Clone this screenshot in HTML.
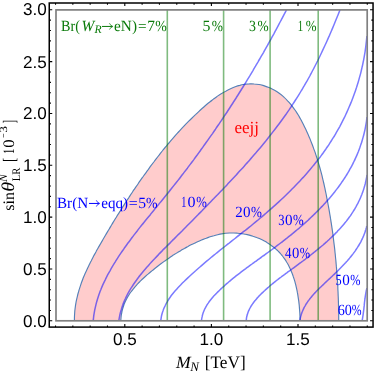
<!DOCTYPE html>
<html><head><meta charset="utf-8"><style>
html,body{margin:0;padding:0;background:#fff}
svg{display:block;will-change:transform}
text{font-family:"Liberation Serif",serif;text-rendering:geometricPrecision}
.sans text{font-family:"Liberation Sans",sans-serif;font-size:17.1px;fill:#000}
.bl text{fill:#0000ff;font-size:15.5px}
.gr text{fill:#0a7a0a;font-size:15.5px}
</style></head><body>
<svg width="374" height="372" viewBox="0 0 374 372">
<rect width="374" height="372" fill="#fff"/>
<path d="M74.4 320.8C74.4 320.0 74.4 317.5 74.5 315.8C74.6 314.2 74.7 312.6 74.8 311.0C75.0 309.3 75.2 307.7 75.4 306.1C75.7 304.5 75.9 302.9 76.2 301.4C76.5 299.8 76.9 298.2 77.3 296.6C77.6 295.1 78.0 293.5 78.5 292.0C78.9 290.4 79.4 288.9 79.9 287.4C80.4 285.9 80.9 284.3 81.4 282.8C82.0 281.3 82.6 279.8 83.1 278.3C83.7 276.8 84.4 275.3 85.0 273.8C85.6 272.4 86.3 270.9 87.0 269.4C87.7 267.9 88.4 266.5 89.1 265.0C89.8 263.6 90.5 262.1 91.3 260.7C92.0 259.2 92.8 257.8 93.5 256.3C94.3 254.9 95.1 253.4 95.9 252.0C96.6 250.6 97.4 249.2 98.2 247.7C99.0 246.3 99.9 244.9 100.7 243.5C101.5 242.1 102.3 240.6 103.1 239.2C104.0 237.8 104.8 236.4 105.6 235.0C106.4 233.6 107.3 232.2 108.1 230.8C108.9 229.4 109.8 228.0 110.6 226.6C111.4 225.2 112.3 223.8 113.1 222.4C114.0 221.1 114.8 219.7 115.6 218.3C116.5 216.9 117.3 215.5 118.2 214.2C119.1 212.8 119.9 211.4 120.8 210.0C121.6 208.7 122.5 207.3 123.4 205.9C124.3 204.6 125.1 203.2 126.0 201.8C126.9 200.5 127.8 199.1 128.7 197.8C129.5 196.4 130.4 195.1 131.3 193.7C132.2 192.4 133.1 191.0 134.0 189.7C134.9 188.4 135.8 187.0 136.8 185.7C137.7 184.4 138.6 183.0 139.5 181.7C140.4 180.4 141.4 179.0 142.3 177.7C143.2 176.4 144.2 175.1 145.1 173.8C146.1 172.5 147.0 171.1 148.0 169.8C148.9 168.5 149.9 167.2 150.8 165.9C151.8 164.6 152.8 163.3 153.8 162.0C154.7 160.7 155.7 159.4 156.7 158.2C157.7 156.9 158.7 155.6 159.7 154.3C160.7 153.0 161.7 151.8 162.7 150.5C163.7 149.3 164.8 148.0 165.8 146.7C166.8 145.5 167.8 144.2 168.9 143.0C169.9 141.8 171.0 140.5 172.0 139.3C173.1 138.1 174.2 136.8 175.2 135.6C176.3 134.4 177.4 133.2 178.5 132.0C179.6 130.8 180.7 129.6 181.8 128.4C182.9 127.2 184.0 126.1 185.1 124.9C186.2 123.7 187.4 122.6 188.5 121.4C189.7 120.2 190.8 119.1 192.0 118.0C193.1 116.8 194.3 115.7 195.5 114.6C196.6 113.5 197.8 112.4 199.0 111.3C200.2 110.2 201.4 109.1 202.6 108.0C203.9 106.9 205.1 105.8 206.3 104.8C207.6 103.7 208.8 102.7 210.1 101.7C211.4 100.7 212.6 99.7 213.9 98.7C215.2 97.7 216.6 96.8 217.9 95.9C219.2 95.0 220.6 94.1 222.0 93.3C223.4 92.4 224.8 91.6 226.2 90.9C227.7 90.1 229.1 89.4 230.6 88.7C232.1 88.0 233.6 87.4 235.2 86.8C236.7 86.3 238.3 85.8 239.8 85.4C241.4 84.9 243.0 84.6 244.6 84.3C246.2 84.1 247.8 83.9 249.4 83.9C251.0 83.8 252.6 83.8 254.2 84.0C255.8 84.1 257.4 84.3 259.0 84.5C260.6 84.8 262.1 85.2 263.7 85.6C265.2 86.1 266.7 86.6 268.2 87.2C269.7 87.8 271.2 88.4 272.6 89.2C274.0 89.9 275.4 90.7 276.7 91.5C278.1 92.4 279.4 93.3 280.6 94.3C281.9 95.3 283.1 96.3 284.2 97.4C285.4 98.4 286.5 99.6 287.6 100.8C288.7 101.9 289.8 103.1 290.8 104.4C291.8 105.7 292.8 107.0 293.8 108.3C294.7 109.6 295.7 111.0 296.6 112.4C297.5 113.7 298.3 115.2 299.2 116.6C300.0 118.0 300.8 119.5 301.6 120.9C302.4 122.4 303.2 123.9 303.9 125.4C304.6 126.9 305.4 128.4 306.1 129.9C306.8 131.4 307.4 132.9 308.1 134.4C308.7 135.9 309.4 137.4 310.0 138.9C310.6 140.5 311.2 142.0 311.8 143.5C312.4 145.0 313.0 146.5 313.5 148.1C314.1 149.6 314.6 151.1 315.2 152.6C315.7 154.2 316.2 155.7 316.7 157.2C317.2 158.8 317.7 160.3 318.1 161.8C318.6 163.4 319.0 164.9 319.5 166.5C319.9 168.0 320.3 169.5 320.8 171.1C321.2 172.6 321.6 174.2 322.0 175.7C322.4 177.3 322.7 178.9 323.1 180.4C323.5 182.0 323.8 183.5 324.2 185.1C324.5 186.7 324.9 188.2 325.2 189.8C325.6 191.4 325.9 193.0 326.2 194.5C326.5 196.1 326.8 197.7 327.1 199.3C327.5 200.9 327.8 202.4 328.0 204.0C328.3 205.6 328.6 207.2 328.9 208.8C329.2 210.4 329.5 212.0 329.7 213.6C330.0 215.2 330.3 216.8 330.5 218.4C330.8 220.0 331.0 221.6 331.3 223.2C331.5 224.8 331.8 226.4 332.0 228.0C332.2 229.7 332.5 231.3 332.7 232.9C332.9 234.5 333.1 236.1 333.3 237.7C333.5 239.3 333.7 241.0 333.9 242.6C334.1 244.2 334.3 245.8 334.5 247.4C334.7 249.1 334.9 250.7 335.0 252.3C335.2 253.9 335.4 255.6 335.5 257.2C335.7 258.8 335.9 260.4 336.0 262.1C336.1 263.7 336.3 265.3 336.4 266.9C336.6 268.6 336.7 270.2 336.8 271.8C336.9 273.4 337.1 275.1 337.2 276.7C337.3 278.3 337.4 279.9 337.5 281.6C337.6 283.2 337.7 284.8 337.8 286.4C337.8 288.1 337.9 289.7 338.0 291.3C338.1 292.9 338.1 294.5 338.2 296.2C338.3 297.8 338.3 299.4 338.4 301.0C338.4 302.6 338.5 304.2 338.5 305.8C338.6 307.5 338.6 309.1 338.6 310.7C338.6 312.3 338.7 313.9 338.7 315.5C338.7 317.1 338.7 319.5 338.7 320.3L300.1 320.3C300.1 319.7 300.0 317.8 300.0 316.6C299.9 315.3 299.9 314.1 299.8 312.8C299.7 311.5 299.6 310.2 299.5 308.9C299.4 307.6 299.3 306.2 299.2 304.9C299.0 303.6 298.9 302.2 298.7 300.9C298.5 299.5 298.3 298.2 298.1 296.8C297.9 295.4 297.7 294.1 297.4 292.7C297.2 291.4 296.9 290.0 296.6 288.7C296.3 287.3 296.0 286.0 295.7 284.6C295.3 283.3 295.0 281.9 294.6 280.6C294.2 279.3 293.8 278.0 293.3 276.7C292.9 275.4 292.4 274.1 291.9 272.8C291.4 271.6 290.9 270.3 290.3 269.1C289.8 267.9 289.2 266.6 288.6 265.5C287.9 264.3 287.3 263.1 286.6 262.0C285.9 260.8 285.2 259.7 284.4 258.6C283.7 257.6 282.9 256.5 282.1 255.5C281.2 254.5 280.4 253.5 279.5 252.5C278.6 251.6 277.7 250.7 276.7 249.8C275.7 248.9 274.8 248.0 273.7 247.2C272.7 246.4 271.7 245.6 270.6 244.9C269.5 244.1 268.5 243.4 267.3 242.7C266.2 242.0 265.1 241.4 263.9 240.7C262.8 240.1 261.6 239.5 260.4 239.0C259.2 238.5 258.0 237.9 256.7 237.5C255.5 237.0 254.3 236.6 253.0 236.2C251.8 235.8 250.5 235.4 249.2 235.1C247.9 234.8 246.6 234.5 245.3 234.2C244.0 234.0 242.7 233.7 241.4 233.6C240.1 233.4 238.8 233.3 237.5 233.2C236.1 233.1 234.8 233.0 233.5 233.0C232.2 233.0 230.8 233.0 229.5 233.0C228.2 233.1 226.9 233.2 225.6 233.3C224.2 233.5 222.9 233.7 221.6 233.9C220.3 234.1 219.0 234.4 217.7 234.7C216.4 235.0 215.2 235.3 213.9 235.7C212.6 236.0 211.3 236.4 210.1 236.8C208.8 237.3 207.5 237.7 206.3 238.2C205.0 238.6 203.8 239.1 202.6 239.6C201.3 240.2 200.1 240.7 198.9 241.2C197.7 241.8 196.4 242.3 195.2 242.9C194.0 243.5 192.8 244.0 191.6 244.6C190.4 245.2 189.2 245.8 188.0 246.5C186.9 247.1 185.7 247.7 184.5 248.4C183.3 249.0 182.2 249.7 181.0 250.4C179.9 251.1 178.7 251.8 177.6 252.5C176.4 253.2 175.3 253.9 174.2 254.6C173.0 255.3 171.9 256.1 170.8 256.8C169.7 257.6 168.6 258.3 167.5 259.1C166.4 259.9 165.3 260.6 164.2 261.4C163.1 262.2 162.0 263.0 160.9 263.8C159.9 264.6 158.8 265.4 157.7 266.2C156.7 267.1 155.6 267.9 154.5 268.7C153.5 269.6 152.5 270.4 151.4 271.3C150.4 272.1 149.3 273.0 148.3 273.9C147.3 274.7 146.3 275.6 145.3 276.5C144.3 277.4 143.3 278.3 142.3 279.2C141.4 280.1 140.4 281.0 139.5 282.0C138.6 282.9 137.7 283.9 136.8 284.8C135.9 285.8 135.0 286.8 134.2 287.8C133.4 288.8 132.5 289.8 131.8 290.8C131.0 291.9 130.2 292.9 129.5 294.0C128.8 295.1 128.1 296.2 127.5 297.3C126.9 298.4 126.3 299.6 125.7 300.7C125.1 301.9 124.6 303.1 124.1 304.3C123.7 305.5 123.2 306.8 122.9 308.1C122.5 309.3 122.1 310.6 121.9 312.0C121.6 313.3 121.3 314.6 121.2 316.0C121.0 317.4 120.9 319.6 120.8 320.3Z" fill="#ffcccc" stroke="none"/>
<path d="M74.4 320.8C74.4 320.0 74.4 317.5 74.5 315.8C74.6 314.2 74.7 312.6 74.8 311.0C75.0 309.3 75.2 307.7 75.4 306.1C75.7 304.5 75.9 302.9 76.2 301.4C76.5 299.8 76.9 298.2 77.3 296.6C77.6 295.1 78.0 293.5 78.5 292.0C78.9 290.4 79.4 288.9 79.9 287.4C80.4 285.9 80.9 284.3 81.4 282.8C82.0 281.3 82.6 279.8 83.1 278.3C83.7 276.8 84.4 275.3 85.0 273.8C85.6 272.4 86.3 270.9 87.0 269.4C87.7 267.9 88.4 266.5 89.1 265.0C89.8 263.6 90.5 262.1 91.3 260.7C92.0 259.2 92.8 257.8 93.5 256.3C94.3 254.9 95.1 253.4 95.9 252.0C96.6 250.6 97.4 249.2 98.2 247.7C99.0 246.3 99.9 244.9 100.7 243.5C101.5 242.1 102.3 240.6 103.1 239.2C104.0 237.8 104.8 236.4 105.6 235.0C106.4 233.6 107.3 232.2 108.1 230.8C108.9 229.4 109.8 228.0 110.6 226.6C111.4 225.2 112.3 223.8 113.1 222.4C114.0 221.1 114.8 219.7 115.6 218.3C116.5 216.9 117.3 215.5 118.2 214.2C119.1 212.8 119.9 211.4 120.8 210.0C121.6 208.7 122.5 207.3 123.4 205.9C124.3 204.6 125.1 203.2 126.0 201.8C126.9 200.5 127.8 199.1 128.7 197.8C129.5 196.4 130.4 195.1 131.3 193.7C132.2 192.4 133.1 191.0 134.0 189.7C134.9 188.4 135.8 187.0 136.8 185.7C137.7 184.4 138.6 183.0 139.5 181.7C140.4 180.4 141.4 179.0 142.3 177.7C143.2 176.4 144.2 175.1 145.1 173.8C146.1 172.5 147.0 171.1 148.0 169.8C148.9 168.5 149.9 167.2 150.8 165.9C151.8 164.6 152.8 163.3 153.8 162.0C154.7 160.7 155.7 159.4 156.7 158.2C157.7 156.9 158.7 155.6 159.7 154.3C160.7 153.0 161.7 151.8 162.7 150.5C163.7 149.3 164.8 148.0 165.8 146.7C166.8 145.5 167.8 144.2 168.9 143.0C169.9 141.8 171.0 140.5 172.0 139.3C173.1 138.1 174.2 136.8 175.2 135.6C176.3 134.4 177.4 133.2 178.5 132.0C179.6 130.8 180.7 129.6 181.8 128.4C182.9 127.2 184.0 126.1 185.1 124.9C186.2 123.7 187.4 122.6 188.5 121.4C189.7 120.2 190.8 119.1 192.0 118.0C193.1 116.8 194.3 115.7 195.5 114.6C196.6 113.5 197.8 112.4 199.0 111.3C200.2 110.2 201.4 109.1 202.6 108.0C203.9 106.9 205.1 105.8 206.3 104.8C207.6 103.7 208.8 102.7 210.1 101.7C211.4 100.7 212.6 99.7 213.9 98.7C215.2 97.7 216.6 96.8 217.9 95.9C219.2 95.0 220.6 94.1 222.0 93.3C223.4 92.4 224.8 91.6 226.2 90.9C227.7 90.1 229.1 89.4 230.6 88.7C232.1 88.0 233.6 87.4 235.2 86.8C236.7 86.3 238.3 85.8 239.8 85.4C241.4 84.9 243.0 84.6 244.6 84.3C246.2 84.1 247.8 83.9 249.4 83.9C251.0 83.8 252.6 83.8 254.2 84.0C255.8 84.1 257.4 84.3 259.0 84.5C260.6 84.8 262.1 85.2 263.7 85.6C265.2 86.1 266.7 86.6 268.2 87.2C269.7 87.8 271.2 88.4 272.6 89.2C274.0 89.9 275.4 90.7 276.7 91.5C278.1 92.4 279.4 93.3 280.6 94.3C281.9 95.3 283.1 96.3 284.2 97.4C285.4 98.4 286.5 99.6 287.6 100.8C288.7 101.9 289.8 103.1 290.8 104.4C291.8 105.7 292.8 107.0 293.8 108.3C294.7 109.6 295.7 111.0 296.6 112.4C297.5 113.7 298.3 115.2 299.2 116.6C300.0 118.0 300.8 119.5 301.6 120.9C302.4 122.4 303.2 123.9 303.9 125.4C304.6 126.9 305.4 128.4 306.1 129.9C306.8 131.4 307.4 132.9 308.1 134.4C308.7 135.9 309.4 137.4 310.0 138.9C310.6 140.5 311.2 142.0 311.8 143.5C312.4 145.0 313.0 146.5 313.5 148.1C314.1 149.6 314.6 151.1 315.2 152.6C315.7 154.2 316.2 155.7 316.7 157.2C317.2 158.8 317.7 160.3 318.1 161.8C318.6 163.4 319.0 164.9 319.5 166.5C319.9 168.0 320.3 169.5 320.8 171.1C321.2 172.6 321.6 174.2 322.0 175.7C322.4 177.3 322.7 178.9 323.1 180.4C323.5 182.0 323.8 183.5 324.2 185.1C324.5 186.7 324.9 188.2 325.2 189.8C325.6 191.4 325.9 193.0 326.2 194.5C326.5 196.1 326.8 197.7 327.1 199.3C327.5 200.9 327.8 202.4 328.0 204.0C328.3 205.6 328.6 207.2 328.9 208.8C329.2 210.4 329.5 212.0 329.7 213.6C330.0 215.2 330.3 216.8 330.5 218.4C330.8 220.0 331.0 221.6 331.3 223.2C331.5 224.8 331.8 226.4 332.0 228.0C332.2 229.7 332.5 231.3 332.7 232.9C332.9 234.5 333.1 236.1 333.3 237.7C333.5 239.3 333.7 241.0 333.9 242.6C334.1 244.2 334.3 245.8 334.5 247.4C334.7 249.1 334.9 250.7 335.0 252.3C335.2 253.9 335.4 255.6 335.5 257.2C335.7 258.8 335.9 260.4 336.0 262.1C336.1 263.7 336.3 265.3 336.4 266.9C336.6 268.6 336.7 270.2 336.8 271.8C336.9 273.4 337.1 275.1 337.2 276.7C337.3 278.3 337.4 279.9 337.5 281.6C337.6 283.2 337.7 284.8 337.8 286.4C337.8 288.1 337.9 289.7 338.0 291.3C338.1 292.9 338.1 294.5 338.2 296.2C338.3 297.8 338.3 299.4 338.4 301.0C338.4 302.6 338.5 304.2 338.5 305.8C338.6 307.5 338.6 309.1 338.6 310.7C338.6 312.3 338.7 313.9 338.7 315.5C338.7 317.1 338.7 319.5 338.7 320.3" fill="none" stroke="#5580b8" stroke-width="1.15"/>
<path d="M120.8 320.3C120.9 319.6 121.0 317.4 121.2 316.0C121.3 314.6 121.6 313.3 121.9 312.0C122.1 310.6 122.5 309.3 122.9 308.1C123.2 306.8 123.7 305.5 124.1 304.3C124.6 303.1 125.1 301.9 125.7 300.7C126.3 299.6 126.9 298.4 127.5 297.3C128.1 296.2 128.8 295.1 129.5 294.0C130.2 292.9 131.0 291.9 131.8 290.8C132.5 289.8 133.4 288.8 134.2 287.8C135.0 286.8 135.9 285.8 136.8 284.8C137.7 283.9 138.6 282.9 139.5 282.0C140.4 281.0 141.4 280.1 142.3 279.2C143.3 278.3 144.3 277.4 145.3 276.5C146.3 275.6 147.3 274.7 148.3 273.9C149.3 273.0 150.4 272.1 151.4 271.3C152.5 270.4 153.5 269.6 154.5 268.7C155.6 267.9 156.7 267.1 157.7 266.2C158.8 265.4 159.9 264.6 160.9 263.8C162.0 263.0 163.1 262.2 164.2 261.4C165.3 260.6 166.4 259.9 167.5 259.1C168.6 258.3 169.7 257.6 170.8 256.8C171.9 256.1 173.0 255.3 174.2 254.6C175.3 253.9 176.4 253.2 177.6 252.5C178.7 251.8 179.9 251.1 181.0 250.4C182.2 249.7 183.3 249.0 184.5 248.4C185.7 247.7 186.9 247.1 188.0 246.5C189.2 245.8 190.4 245.2 191.6 244.6C192.8 244.0 194.0 243.5 195.2 242.9C196.4 242.3 197.7 241.8 198.9 241.2C200.1 240.7 201.3 240.2 202.6 239.6C203.8 239.1 205.0 238.6 206.3 238.2C207.5 237.7 208.8 237.3 210.1 236.8C211.3 236.4 212.6 236.0 213.9 235.7C215.2 235.3 216.4 235.0 217.7 234.7C219.0 234.4 220.3 234.1 221.6 233.9C222.9 233.7 224.2 233.5 225.6 233.3C226.9 233.2 228.2 233.1 229.5 233.0C230.8 233.0 232.2 233.0 233.5 233.0C234.8 233.0 236.1 233.1 237.5 233.2C238.8 233.3 240.1 233.4 241.4 233.6C242.7 233.7 244.0 234.0 245.3 234.2C246.6 234.5 247.9 234.8 249.2 235.1C250.5 235.4 251.8 235.8 253.0 236.2C254.3 236.6 255.5 237.0 256.7 237.5C258.0 237.9 259.2 238.5 260.4 239.0C261.6 239.5 262.8 240.1 263.9 240.7C265.1 241.4 266.2 242.0 267.3 242.7C268.5 243.4 269.5 244.1 270.6 244.9C271.7 245.6 272.7 246.4 273.7 247.2C274.8 248.0 275.7 248.9 276.7 249.8C277.7 250.7 278.6 251.6 279.5 252.5C280.4 253.5 281.2 254.5 282.1 255.5C282.9 256.5 283.7 257.6 284.4 258.6C285.2 259.7 285.9 260.8 286.6 262.0C287.3 263.1 287.9 264.3 288.6 265.5C289.2 266.6 289.8 267.9 290.3 269.1C290.9 270.3 291.4 271.6 291.9 272.8C292.4 274.1 292.9 275.4 293.3 276.7C293.8 278.0 294.2 279.3 294.6 280.6C295.0 281.9 295.3 283.3 295.7 284.6C296.0 286.0 296.3 287.3 296.6 288.7C296.9 290.0 297.2 291.4 297.4 292.7C297.7 294.1 297.9 295.4 298.1 296.8C298.3 298.2 298.5 299.5 298.7 300.9C298.9 302.2 299.0 303.6 299.2 304.9C299.3 306.2 299.4 307.6 299.5 308.9C299.6 310.2 299.7 311.5 299.8 312.8C299.9 314.1 299.9 315.3 300.0 316.6C300.0 317.8 300.1 319.7 300.1 320.3" fill="none" stroke="#5580b8" stroke-width="1.15"/>
<g fill="none" stroke="#0000ff" stroke-opacity="0.52" stroke-width="1.5">
<path d="M93.2 320.8C93.3 319.9 93.6 317.2 93.8 315.4C94.1 313.6 94.4 311.8 94.7 310.1C95.1 308.3 95.5 306.6 95.9 304.9C96.3 303.2 96.8 301.4 97.3 299.8C97.8 298.1 98.4 296.4 98.9 294.7C99.5 293.1 100.1 291.4 100.8 289.8C101.4 288.1 102.1 286.5 102.8 284.9C103.5 283.3 104.3 281.7 105.1 280.1C105.8 278.5 106.6 277.0 107.4 275.4C108.3 273.8 109.1 272.3 110.0 270.8C110.8 269.2 111.7 267.7 112.6 266.2C113.5 264.6 114.4 263.1 115.4 261.6C116.3 260.1 117.3 258.6 118.2 257.1C119.2 255.7 120.2 254.2 121.2 252.7C122.2 251.2 123.2 249.8 124.2 248.3C125.3 246.9 126.3 245.4 127.3 244.0C128.4 242.5 129.4 241.1 130.5 239.7C131.6 238.3 132.6 236.8 133.7 235.4C134.8 234.0 135.9 232.6 137.0 231.2C138.1 229.7 139.2 228.3 140.3 226.9C141.4 225.5 142.6 224.1 143.7 222.7C144.8 221.3 145.9 219.9 147.1 218.5C148.2 217.2 149.3 215.8 150.5 214.4C151.6 213.0 152.7 211.6 153.9 210.2C155.0 208.8 156.2 207.4 157.3 206.0C158.4 204.7 159.6 203.3 160.7 201.9C161.9 200.5 163.0 199.1 164.1 197.7C165.3 196.3 166.4 194.9 167.5 193.5C168.6 192.1 169.8 190.7 170.9 189.3C172.0 187.9 173.1 186.5 174.2 185.1C175.3 183.7 176.5 182.3 177.6 180.9C178.7 179.5 179.8 178.1 180.8 176.7C181.9 175.3 183.0 173.8 184.1 172.4C185.2 171.0 186.3 169.6 187.4 168.2C188.4 166.7 189.5 165.3 190.6 163.9C191.7 162.5 192.7 161.0 193.8 159.6C194.8 158.2 195.9 156.7 197.0 155.3C198.0 153.9 199.1 152.4 200.1 151.0C201.1 149.5 202.2 148.1 203.2 146.6C204.3 145.2 205.3 143.7 206.3 142.3C207.4 140.8 208.4 139.4 209.4 137.9C210.4 136.5 211.4 135.0 212.5 133.6C213.5 132.1 214.5 130.6 215.5 129.2C216.5 127.7 217.5 126.2 218.5 124.8C219.5 123.3 220.5 121.8 221.5 120.4C222.5 118.9 223.5 117.4 224.4 115.9C225.4 114.4 226.4 113.0 227.4 111.5C228.4 110.0 229.3 108.5 230.3 107.0C231.3 105.5 232.2 104.0 233.2 102.5C234.2 101.0 235.1 99.5 236.1 98.0C237.0 96.5 238.0 95.0 238.9 93.5C239.9 92.0 240.8 90.5 241.7 89.0C242.7 87.5 243.6 86.0 244.5 84.5C245.5 83.0 246.4 81.4 247.3 79.9C248.3 78.4 249.2 76.9 250.1 75.4C251.0 73.8 251.9 72.3 252.8 70.8C253.7 69.2 254.6 67.7 255.5 66.2C256.4 64.6 257.3 63.1 258.2 61.6C259.1 60.0 260.0 58.5 260.9 56.9C261.8 55.4 262.7 53.8 263.6 52.3C264.4 50.7 265.3 49.2 266.2 47.6C267.1 46.1 267.9 44.5 268.8 43.0C269.7 41.4 270.5 39.8 271.4 38.3C272.3 36.7 273.1 35.1 274.0 33.6C274.8 32.0 275.7 30.4 276.5 28.8C277.4 27.3 278.2 25.7 279.0 24.1C279.9 22.5 280.7 20.9 281.5 19.4C282.4 17.8 283.2 16.2 284.0 14.6C284.9 13.0 286.1 10.6 286.5 9.8"/><path d="M118.9 320.3C119.1 319.4 119.5 316.5 119.9 314.6C120.3 312.8 120.8 311.0 121.4 309.2C121.9 307.4 122.5 305.7 123.1 303.9C123.8 302.2 124.5 300.5 125.3 298.8C126.0 297.2 126.9 295.5 127.7 293.9C128.6 292.3 129.5 290.7 130.4 289.1C131.4 287.6 132.4 286.0 133.4 284.5C134.4 283.0 135.5 281.5 136.6 280.0C137.6 278.5 138.8 277.0 139.9 275.5C141.0 274.1 142.2 272.6 143.4 271.2C144.6 269.8 145.8 268.4 147.0 267.0C148.3 265.6 149.5 264.2 150.8 262.8C152.0 261.4 153.3 260.0 154.6 258.7C155.9 257.3 157.2 255.9 158.5 254.6C159.8 253.2 161.1 251.9 162.4 250.6C163.7 249.2 165.1 247.9 166.4 246.6C167.7 245.2 169.0 243.9 170.4 242.6C171.7 241.3 173.0 239.9 174.4 238.6C175.7 237.3 177.0 236.0 178.3 234.6C179.7 233.3 181.0 232.0 182.3 230.7C183.6 229.3 184.9 228.0 186.2 226.7C187.6 225.4 188.9 224.0 190.2 222.7C191.5 221.4 192.8 220.1 194.1 218.7C195.4 217.4 196.7 216.1 198.0 214.8C199.3 213.4 200.7 212.1 202.0 210.8C203.3 209.4 204.6 208.1 205.9 206.8C207.2 205.5 208.5 204.1 209.7 202.8C211.0 201.5 212.3 200.1 213.6 198.8C214.9 197.4 216.2 196.1 217.5 194.8C218.8 193.4 220.1 192.1 221.4 190.7C222.7 189.4 223.9 188.0 225.2 186.7C226.5 185.3 227.8 184.0 229.1 182.6C230.3 181.3 231.6 179.9 232.9 178.5C234.1 177.2 235.4 175.8 236.7 174.4C237.9 173.1 239.2 171.7 240.4 170.3C241.7 168.9 243.0 167.6 244.2 166.2C245.4 164.8 246.7 163.4 247.9 162.0C249.1 160.6 250.4 159.2 251.6 157.8C252.8 156.4 254.0 155.0 255.3 153.6C256.5 152.1 257.7 150.7 258.9 149.3C260.1 147.9 261.3 146.4 262.5 145.0C263.6 143.6 264.8 142.1 266.0 140.7C267.2 139.2 268.3 137.8 269.5 136.3C270.6 134.9 271.8 133.4 272.9 131.9C274.1 130.4 275.2 129.0 276.3 127.5C277.4 126.0 278.6 124.5 279.7 123.0C280.8 121.5 281.9 120.0 283.0 118.5C284.1 117.0 285.1 115.5 286.2 114.0C287.3 112.4 288.3 110.9 289.4 109.4C290.4 107.8 291.5 106.3 292.5 104.7C293.5 103.2 294.5 101.6 295.5 100.0C296.5 98.5 297.5 96.9 298.5 95.3C299.5 93.7 300.5 92.1 301.4 90.5C302.4 88.9 303.3 87.3 304.3 85.7C305.2 84.1 306.1 82.5 307.1 80.9C308.0 79.2 308.9 77.6 309.8 76.0C310.7 74.3 311.6 72.7 312.4 71.0C313.3 69.4 314.2 67.7 315.0 66.0C315.9 64.4 316.7 62.7 317.6 61.0C318.4 59.4 319.2 57.7 320.0 56.0C320.8 54.3 321.6 52.6 322.4 50.9C323.2 49.2 324.0 47.5 324.8 45.8C325.6 44.1 326.4 42.4 327.1 40.7C327.9 39.0 328.6 37.3 329.4 35.6C330.1 33.9 330.9 32.2 331.6 30.5C332.3 28.8 333.1 27.0 333.8 25.3C334.5 23.6 335.2 21.9 335.9 20.1C336.6 18.4 337.3 16.7 338.0 15.0C338.7 13.3 339.7 10.7 340.0 9.8"/><path d="M160.7 320.8C160.9 319.9 161.2 317.2 161.6 315.5C162.0 313.8 162.5 312.1 163.1 310.5C163.6 308.9 164.3 307.3 165.1 305.8C165.8 304.2 166.6 302.7 167.5 301.3C168.4 299.8 169.3 298.4 170.3 297.0C171.3 295.5 172.4 294.2 173.5 292.8C174.6 291.5 175.8 290.2 176.9 288.9C178.1 287.5 179.3 286.3 180.6 285.0C181.8 283.7 183.0 282.5 184.3 281.3C185.6 280.0 186.8 278.8 188.1 277.6C189.4 276.4 190.7 275.2 192.0 274.0C193.3 272.8 194.6 271.6 195.9 270.5C197.2 269.3 198.5 268.1 199.9 267.0C201.2 265.8 202.5 264.7 203.8 263.6C205.2 262.4 206.5 261.3 207.9 260.2C209.2 259.1 210.6 257.9 211.9 256.8C213.3 255.7 214.6 254.6 216.0 253.5C217.4 252.4 218.7 251.3 220.1 250.2C221.5 249.1 222.9 248.0 224.2 247.0C225.6 245.9 227.0 244.8 228.4 243.7C229.7 242.6 231.1 241.5 232.5 240.4C233.9 239.4 235.2 238.3 236.6 237.2C238.0 236.1 239.4 235.0 240.7 233.9C242.1 232.8 243.5 231.7 244.9 230.7C246.2 229.6 247.6 228.5 249.0 227.4C250.4 226.3 251.7 225.2 253.1 224.0C254.4 222.9 255.8 221.8 257.2 220.7C258.5 219.6 259.9 218.4 261.2 217.3C262.6 216.2 263.9 215.0 265.2 213.9C266.6 212.7 267.9 211.6 269.2 210.4C270.6 209.3 271.9 208.1 273.2 206.9C274.5 205.8 275.8 204.6 277.1 203.4C278.4 202.2 279.7 201.0 281.0 199.8C282.3 198.6 283.6 197.4 284.8 196.2C286.1 195.0 287.4 193.7 288.6 192.5C289.9 191.3 291.1 190.0 292.3 188.8C293.6 187.6 294.8 186.3 296.0 185.0C297.2 183.8 298.5 182.5 299.7 181.2C300.8 179.9 302.0 178.6 303.2 177.4C304.4 176.1 305.6 174.7 306.7 173.4C307.9 172.1 309.0 170.8 310.1 169.5C311.3 168.1 312.4 166.8 313.5 165.4C314.6 164.1 315.7 162.7 316.8 161.3C317.8 160.0 318.9 158.6 320.0 157.2C321.0 155.8 322.1 154.4 323.1 153.0C324.1 151.5 325.1 150.1 326.1 148.7C327.1 147.2 328.1 145.8 329.1 144.3C330.0 142.9 331.0 141.4 331.9 139.9C332.8 138.4 333.8 137.0 334.7 135.5C335.6 133.9 336.4 132.4 337.3 130.9C338.2 129.4 339.0 127.8 339.9 126.3C340.7 124.8 341.5 123.2 342.3 121.6C343.1 120.1 343.9 118.5 344.7 116.9C345.4 115.3 346.2 113.7 346.9 112.1C347.6 110.5 348.3 108.9 349.0 107.3C349.7 105.7 350.4 104.0 351.1 102.4C351.7 100.8 352.4 99.1 353.0 97.5C353.6 95.8 354.2 94.2 354.8 92.5C355.4 90.9 355.9 89.2 356.5 87.5C357.0 85.8 357.6 84.2 358.1 82.5C358.6 80.8 359.1 79.1 359.5 77.4C360.0 75.7 360.5 74.0 360.9 72.3C361.3 70.6 361.7 68.9 362.1 67.2C362.5 65.4 362.9 63.7 363.2 62.0C363.6 60.3 363.9 58.6 364.2 56.8C364.5 55.1 364.8 53.4 365.1 51.6C365.3 49.9 365.6 48.2 365.8 46.4C366.0 44.7 366.2 43.0 366.4 41.2C366.6 39.5 366.8 36.9 366.9 36.0"/><path d="M201.4 320.8C201.5 320.1 201.8 318.1 202.1 316.9C202.3 315.6 202.7 314.3 203.1 313.1C203.5 311.9 204.0 310.7 204.5 309.5C205.1 308.4 205.7 307.3 206.3 306.2C206.9 305.0 207.6 304.0 208.4 302.9C209.1 301.8 209.9 300.8 210.7 299.8C211.5 298.8 212.3 297.8 213.2 296.8C214.1 295.8 215.0 294.9 215.9 293.9C216.8 293.0 217.7 292.0 218.7 291.1C219.6 290.2 220.6 289.3 221.5 288.4C222.5 287.5 223.4 286.6 224.4 285.8C225.4 284.9 226.4 284.0 227.4 283.2C228.3 282.3 229.3 281.5 230.3 280.6C231.3 279.8 232.3 279.0 233.3 278.2C234.4 277.3 235.4 276.5 236.4 275.7C237.4 274.9 238.4 274.1 239.5 273.3C240.5 272.5 241.5 271.7 242.6 270.9C243.6 270.2 244.6 269.4 245.7 268.6C246.7 267.8 247.8 267.1 248.8 266.3C249.9 265.5 250.9 264.8 252.0 264.0C253.0 263.2 254.1 262.5 255.2 261.7C256.2 260.9 257.3 260.2 258.3 259.4C259.4 258.6 260.5 257.9 261.5 257.1C262.6 256.3 263.7 255.6 264.7 254.8C265.8 254.0 266.8 253.3 267.9 252.5C269.0 251.7 270.0 251.0 271.1 250.2C272.2 249.4 273.2 248.6 274.3 247.8C275.3 247.0 276.4 246.2 277.4 245.4C278.5 244.6 279.6 243.8 280.6 243.0C281.7 242.2 282.7 241.4 283.7 240.6C284.8 239.8 285.8 239.0 286.9 238.2C287.9 237.3 288.9 236.5 290.0 235.7C291.0 234.9 292.0 234.0 293.1 233.2C294.1 232.3 295.1 231.5 296.1 230.6C297.1 229.8 298.1 228.9 299.2 228.1C300.2 227.2 301.2 226.4 302.2 225.5C303.1 224.6 304.1 223.7 305.1 222.9C306.1 222.0 307.1 221.1 308.1 220.2C309.0 219.3 310.0 218.4 310.9 217.5C311.9 216.6 312.9 215.7 313.8 214.8C314.7 213.9 315.7 213.0 316.6 212.0C317.5 211.1 318.5 210.2 319.4 209.2C320.3 208.3 321.2 207.3 322.1 206.4C323.0 205.4 323.9 204.5 324.8 203.5C325.6 202.6 326.5 201.6 327.4 200.6C328.2 199.6 329.1 198.7 329.9 197.7C330.8 196.7 331.6 195.7 332.4 194.7C333.2 193.7 334.0 192.7 334.8 191.7C335.6 190.6 336.4 189.6 337.2 188.6C338.0 187.6 338.8 186.5 339.5 185.5C340.3 184.4 341.0 183.4 341.7 182.3C342.5 181.3 343.2 180.2 343.9 179.1C344.6 178.0 345.3 177.0 346.0 175.9C346.7 174.8 347.3 173.7 348.0 172.6C348.7 171.5 349.3 170.3 349.9 169.2C350.6 168.1 351.2 167.0 351.8 165.8C352.4 164.7 353.0 163.6 353.5 162.4C354.1 161.2 354.7 160.1 355.2 158.9C355.7 157.7 356.3 156.6 356.8 155.4C357.3 154.2 357.8 153.0 358.3 151.8C358.7 150.6 359.2 149.4 359.7 148.1C360.1 146.9 360.5 145.7 360.9 144.4C361.4 143.2 361.8 141.9 362.1 140.7C362.5 139.4 362.9 138.2 363.2 136.9C363.6 135.6 363.9 134.3 364.2 133.0C364.5 131.7 364.8 130.4 365.1 129.1C365.3 127.8 365.6 126.5 365.8 125.1C366.1 123.8 366.3 122.4 366.5 121.1C366.7 119.7 366.9 117.7 367.0 117.0"/><path d="M246.2 320.8C246.3 320.3 246.4 318.8 246.5 317.9C246.7 316.9 246.9 316.0 247.2 315.1C247.4 314.2 247.7 313.3 248.0 312.4C248.3 311.6 248.7 310.7 249.1 309.9C249.5 309.0 249.9 308.2 250.4 307.4C250.8 306.6 251.3 305.8 251.8 305.0C252.3 304.3 252.9 303.5 253.4 302.8C254.0 302.0 254.5 301.3 255.1 300.6C255.7 299.8 256.3 299.1 256.9 298.4C257.6 297.7 258.2 297.0 258.8 296.4C259.5 295.7 260.1 295.0 260.8 294.3C261.4 293.7 262.1 293.0 262.8 292.4C263.5 291.7 264.1 291.1 264.8 290.5C265.5 289.8 266.2 289.2 266.9 288.6C267.6 288.0 268.3 287.3 269.0 286.7C269.7 286.1 270.4 285.5 271.1 284.9C271.8 284.3 272.6 283.7 273.3 283.1C274.0 282.6 274.8 282.0 275.5 281.4C276.2 280.8 277.0 280.2 277.7 279.7C278.5 279.1 279.2 278.5 279.9 277.9C280.7 277.4 281.4 276.8 282.2 276.2C283.0 275.7 283.7 275.1 284.5 274.6C285.2 274.0 286.0 273.4 286.8 272.9C287.5 272.3 288.3 271.7 289.1 271.2C289.8 270.6 290.6 270.1 291.4 269.5C292.1 268.9 292.9 268.4 293.7 267.8C294.4 267.3 295.2 266.7 296.0 266.1C296.7 265.6 297.5 265.0 298.3 264.4C299.0 263.9 299.8 263.3 300.6 262.7C301.3 262.1 302.1 261.6 302.9 261.0C303.6 260.4 304.4 259.8 305.2 259.3C305.9 258.7 306.7 258.1 307.5 257.5C308.2 256.9 309.0 256.4 309.7 255.8C310.5 255.2 311.3 254.6 312.0 254.0C312.8 253.4 313.5 252.8 314.3 252.2C315.0 251.6 315.7 251.0 316.5 250.4C317.2 249.8 318.0 249.2 318.7 248.6C319.4 248.0 320.2 247.4 320.9 246.8C321.6 246.2 322.3 245.6 323.1 245.0C323.8 244.3 324.5 243.7 325.2 243.1C325.9 242.5 326.6 241.8 327.3 241.2C328.0 240.6 328.7 239.9 329.4 239.3C330.1 238.6 330.8 238.0 331.5 237.3C332.2 236.7 332.8 236.0 333.5 235.4C334.2 234.7 334.8 234.1 335.5 233.4C336.1 232.7 336.8 232.1 337.4 231.4C338.1 230.7 338.7 230.0 339.4 229.3C340.0 228.7 340.6 228.0 341.2 227.3C341.8 226.6 342.4 225.9 343.0 225.2C343.6 224.5 344.2 223.8 344.8 223.0C345.4 222.3 346.0 221.6 346.6 220.9C347.1 220.1 347.7 219.4 348.2 218.7C348.8 217.9 349.3 217.2 349.9 216.4C350.4 215.7 350.9 214.9 351.4 214.2C351.9 213.4 352.4 212.6 352.9 211.9C353.4 211.1 353.9 210.3 354.4 209.5C354.9 208.7 355.3 207.9 355.8 207.1C356.2 206.3 356.7 205.5 357.1 204.7C357.6 203.9 358.0 203.1 358.4 202.2C358.8 201.4 359.2 200.6 359.6 199.7C360.0 198.9 360.4 198.0 360.7 197.2C361.1 196.3 361.4 195.4 361.8 194.6C362.1 193.7 362.4 192.8 362.8 191.9C363.1 191.0 363.4 190.1 363.7 189.2C364.0 188.3 364.2 187.4 364.5 186.5C364.8 185.6 365.0 184.6 365.3 183.7C365.5 182.7 365.7 181.8 365.9 180.8C366.1 179.9 366.3 178.9 366.5 177.9C366.7 177.0 366.9 175.5 367.0 175.0"/><path d="M299.9 320.3C300.0 320.0 300.1 319.1 300.2 318.6C300.3 318.0 300.5 317.4 300.6 316.9C300.7 316.3 300.9 315.8 301.1 315.2C301.2 314.7 301.4 314.2 301.6 313.6C301.7 313.1 301.9 312.6 302.1 312.1C302.3 311.5 302.6 311.0 302.8 310.5C303.0 310.0 303.2 309.5 303.5 309.0C303.7 308.5 303.9 308.0 304.2 307.5C304.4 307.0 304.7 306.5 305.0 306.1C305.3 305.6 305.5 305.1 305.8 304.6C306.1 304.2 306.4 303.7 306.7 303.2C307.0 302.8 307.3 302.3 307.6 301.9C307.9 301.4 308.2 300.9 308.6 300.5C308.9 300.1 309.2 299.6 309.6 299.2C309.9 298.7 310.3 298.3 310.6 297.9C311.0 297.4 311.3 297.0 311.7 296.6C312.0 296.1 312.4 295.7 312.8 295.3C313.1 294.9 313.5 294.4 313.9 294.0C314.3 293.6 314.7 293.2 315.0 292.8C315.4 292.4 315.8 291.9 316.2 291.5C316.6 291.1 317.0 290.7 317.4 290.3C317.8 289.9 318.2 289.5 318.6 289.1C319.0 288.7 319.4 288.3 319.8 287.9C320.2 287.5 320.7 287.1 321.1 286.7C321.5 286.3 321.9 285.9 322.3 285.5C322.7 285.1 323.1 284.7 323.6 284.3C324.0 283.9 324.4 283.5 324.8 283.1C325.2 282.7 325.7 282.3 326.1 281.9C326.5 281.5 326.9 281.1 327.3 280.7C327.8 280.3 328.2 279.9 328.6 279.5C329.0 279.1 329.4 278.8 329.9 278.4C330.3 278.0 330.7 277.6 331.1 277.2C331.6 276.8 332.0 276.4 332.4 276.0C332.8 275.6 333.2 275.2 333.6 274.8C334.1 274.4 334.5 274.0 334.9 273.6C335.3 273.2 335.7 272.8 336.1 272.4C336.6 272.0 337.0 271.6 337.4 271.2C337.8 270.8 338.2 270.4 338.6 270.0C339.0 269.6 339.4 269.2 339.8 268.7C340.2 268.3 340.6 267.9 341.0 267.5C341.4 267.1 341.8 266.7 342.2 266.3C342.6 265.9 343.0 265.5 343.4 265.0C343.8 264.6 344.2 264.2 344.6 263.8C345.0 263.4 345.4 263.0 345.8 262.5C346.1 262.1 346.5 261.7 346.9 261.3C347.3 260.8 347.7 260.4 348.0 260.0C348.4 259.6 348.8 259.1 349.1 258.7C349.5 258.3 349.9 257.8 350.2 257.4C350.6 257.0 350.9 256.5 351.3 256.1C351.7 255.6 352.0 255.2 352.3 254.8C352.7 254.3 353.0 253.9 353.4 253.4C353.7 253.0 354.0 252.5 354.4 252.0C354.7 251.6 355.0 251.1 355.4 250.7C355.7 250.2 356.0 249.7 356.3 249.3C356.6 248.8 356.9 248.3 357.2 247.9C357.5 247.4 357.8 246.9 358.1 246.4C358.4 246.0 358.7 245.5 359.0 245.0C359.3 244.5 359.6 244.0 359.8 243.5C360.1 243.0 360.4 242.6 360.7 242.1C360.9 241.6 361.2 241.1 361.4 240.6C361.7 240.0 361.9 239.5 362.2 239.0C362.4 238.5 362.7 238.0 362.9 237.5C363.1 237.0 363.3 236.4 363.6 235.9C363.8 235.4 364.0 234.9 364.2 234.3C364.4 233.8 364.6 233.3 364.8 232.7C365.0 232.2 365.2 231.6 365.4 231.1C365.5 230.5 365.7 230.0 365.9 229.4C366.0 228.8 366.2 228.3 366.4 227.7C366.5 227.1 366.7 226.3 366.8 226.0"/><path d="M362.2 320.3C362.3 319.7 362.6 317.9 362.8 316.7C363.0 315.5 363.2 314.3 363.3 313.1C363.5 311.9 363.6 310.7 363.8 309.5C363.9 308.3 364.0 307.1 364.2 305.9C364.3 304.7 364.4 303.5 364.5 302.3C364.7 301.1 364.8 299.9 365.0 298.7C365.1 297.5 365.3 296.3 365.5 295.1C365.7 293.9 365.9 292.7 366.1 291.5C366.3 290.4 366.8 288.6 366.9 288.0"/>
</g>
<path d="M167.3 9.8V320.8M223.6 9.8V320.8M270.1 9.8V320.8M318.2 9.8V320.8" fill="none" stroke="#007800" stroke-opacity="0.5" stroke-width="1.6"/>
<rect x="56.0" y="9.9" width="311.2" height="310.9" fill="none" stroke="#808080" stroke-width="1.7"/>
<rect x="49.25" y="3.0" width="323.8" height="324.1" fill="none" stroke="#000" stroke-width="1.5"/>
<path d="M55.52 327.10v-1.7M55.52 3.00v1.7M72.84 327.10v-1.7M72.84 3.00v1.7M90.16 327.10v-1.7M90.16 3.00v1.7M107.48 327.10v-1.7M107.48 3.00v1.7M124.80 327.10v-3.0M124.80 3.00v3.0M142.12 327.10v-1.7M142.12 3.00v1.7M159.44 327.10v-1.7M159.44 3.00v1.7M176.76 327.10v-1.7M176.76 3.00v1.7M194.08 327.10v-1.7M194.08 3.00v1.7M211.40 327.10v-3.0M211.40 3.00v3.0M228.72 327.10v-1.7M228.72 3.00v1.7M246.04 327.10v-1.7M246.04 3.00v1.7M263.36 327.10v-1.7M263.36 3.00v1.7M280.68 327.10v-1.7M280.68 3.00v1.7M298.00 327.10v-3.0M298.00 3.00v3.0M315.32 327.10v-1.7M315.32 3.00v1.7M332.64 327.10v-1.7M332.64 3.00v1.7M349.96 327.10v-1.7M349.96 3.00v1.7M367.28 327.10v-1.7M367.28 3.00v1.7M49.25 320.80h3.0M373.05 320.80h-3.0M49.25 310.43h1.7M373.05 310.43h-1.7M49.25 300.07h1.7M373.05 300.07h-1.7M49.25 289.70h1.7M373.05 289.70h-1.7M49.25 279.33h1.7M373.05 279.33h-1.7M49.25 268.97h3.0M373.05 268.97h-3.0M49.25 258.60h1.7M373.05 258.60h-1.7M49.25 248.23h1.7M373.05 248.23h-1.7M49.25 237.86h1.7M373.05 237.86h-1.7M49.25 227.50h1.7M373.05 227.50h-1.7M49.25 217.13h3.0M373.05 217.13h-3.0M49.25 206.76h1.7M373.05 206.76h-1.7M49.25 196.40h1.7M373.05 196.40h-1.7M49.25 186.03h1.7M373.05 186.03h-1.7M49.25 175.66h1.7M373.05 175.66h-1.7M49.25 165.30h3.0M373.05 165.30h-3.0M49.25 154.93h1.7M373.05 154.93h-1.7M49.25 144.56h1.7M373.05 144.56h-1.7M49.25 134.19h1.7M373.05 134.19h-1.7M49.25 123.83h1.7M373.05 123.83h-1.7M49.25 113.46h3.0M373.05 113.46h-3.0M49.25 103.09h1.7M373.05 103.09h-1.7M49.25 92.73h1.7M373.05 92.73h-1.7M49.25 82.36h1.7M373.05 82.36h-1.7M49.25 71.99h1.7M373.05 71.99h-1.7M49.25 61.62h3.0M373.05 61.62h-3.0M49.25 51.26h1.7M373.05 51.26h-1.7M49.25 40.89h1.7M373.05 40.89h-1.7M49.25 30.52h1.7M373.05 30.52h-1.7M49.25 20.16h1.7M373.05 20.16h-1.7M49.25 9.79h3.0M373.05 9.79h-3.0" fill="none" stroke="#000" stroke-width="1.1"/>
<g class="sans"><text x="124.8" y="345.2" text-anchor="middle">0.5</text><text x="211.4" y="345.2" text-anchor="middle">1.0</text><text x="298.0" y="345.2" text-anchor="middle">1.5</text><text x="46.7" y="327.0" text-anchor="end">0.0</text><text x="46.7" y="275.0" text-anchor="end">0.5</text><text x="46.7" y="223.0" text-anchor="end">1.0</text><text x="46.7" y="171.0" text-anchor="end">1.5</text><text x="46.7" y="119.0" text-anchor="end">2.0</text><text x="46.7" y="68.0" text-anchor="end">2.5</text><text x="46.7" y="15.0" text-anchor="end">3.0</text></g>
<text transform="translate(60.99,31) scale(0.910,1)" font-size="15.6px" fill="#0a7a0a">Br(</text>
<text transform="translate(81.59,31) scale(0.981,1)" font-size="15.6px" fill="#0a7a0a" font-style="italic">W</text>
<text transform="translate(94.46,33) scale(1.033,1)" font-size="11.3px" fill="#0a7a0a" font-style="italic">R</text>
<path d="M102.0 26.45H111.9" stroke="#0a7a0a" stroke-width="1" fill="none"/><path d="M113.1 26.45Q110.9 25.55 109.4 23.55L109.9 23.55Q110.5 25.65 111.9 26.45Q110.5 27.25 109.9 29.35L109.4 29.35Q110.9 27.35 113.1 26.45Z" fill="#0a7a0a" stroke="#0a7a0a" stroke-width="0.35" stroke-linejoin="round"/>
<text transform="translate(114.10,31) scale(0.978,1)" font-size="15.6px" fill="#0a7a0a">eN)</text>
<text transform="translate(138.04,31) scale(0.978,1)" font-size="15.6px" fill="#0a7a0a">=</text>
<text transform="translate(147.19,31) scale(0.981,1)" font-size="15.6px" fill="#0a7a0a">7</text>
<text transform="translate(155.18,31) scale(0.889,1)" font-size="15.6px" fill="#0a7a0a">%</text>
<text transform="translate(202.48,31) scale(1.018,1)" font-size="15.6px" fill="#0a7a0a">5</text>
<text transform="translate(211.79,31) scale(0.863,1)" font-size="15.6px" fill="#0a7a0a">%</text>
<text transform="translate(248.98,31) scale(0.892,1)" font-size="15.6px" fill="#0a7a0a">3</text>
<text transform="translate(257.49,31) scale(0.855,1)" font-size="15.6px" fill="#0a7a0a">%</text>
<text transform="translate(297.85,31) scale(0.692,1)" font-size="15.6px" fill="#0a7a0a">1</text>
<text transform="translate(305.81,31) scale(0.830,1)" font-size="15.6px" fill="#0a7a0a">%</text>
<text transform="translate(56.96,208) scale(0.973,1)" font-size="15.6px" fill="#0000ff">Br(N</text>
<path d="M89.0 203.45H98.7" stroke="#0000ff" stroke-width="1" fill="none"/><path d="M99.9 203.45Q97.7 202.55 96.2 200.55L96.7 200.55Q97.3 202.65 98.7 203.45Q97.3 204.25 96.7 206.35L96.2 206.35Q97.7 204.35 99.9 203.45Z" fill="#0000ff" stroke="#0000ff" stroke-width="0.35" stroke-linejoin="round"/>
<text transform="translate(101.21,208) scale(0.969,1)" font-size="15.6px" fill="#0000ff">eqq)</text>
<text transform="translate(128.81,208) scale(1.019,1)" font-size="15.6px" fill="#0000ff">=</text>
<text transform="translate(138.29,208) scale(1.003,1)" font-size="15.6px" fill="#0000ff">5</text>
<text transform="translate(145.98,208) scale(0.889,1)" font-size="15.6px" fill="#0000ff">%</text>
<text transform="translate(181.30,207) scale(0.655,1)" font-size="15.6px" fill="#0000ff">1</text>
<text transform="translate(187.59,207) scale(1.028,1)" font-size="15.6px" fill="#0000ff">0</text>
<text transform="translate(196.36,207) scale(0.817,1)" font-size="15.6px" fill="#0000ff">%</text>
<text transform="translate(235.34,217) scale(0.959,1)" font-size="15.6px" fill="#0000ff">2</text>
<text transform="translate(243.02,217) scale(0.968,1)" font-size="15.6px" fill="#0000ff">0</text>
<text transform="translate(251.10,217) scale(0.838,1)" font-size="15.6px" fill="#0000ff">%</text>
<text transform="translate(278.20,225) scale(0.807,1)" font-size="15.6px" fill="#0000ff">3</text>
<text transform="translate(285.02,225) scale(0.968,1)" font-size="15.6px" fill="#0000ff">0</text>
<text transform="translate(292.91,225) scale(0.822,1)" font-size="15.6px" fill="#0000ff">%</text>
<text transform="translate(285.00,258) scale(0.834,1)" font-size="15.6px" fill="#0000ff">4</text>
<text transform="translate(292.04,258) scale(0.938,1)" font-size="15.6px" fill="#0000ff">0</text>
<text transform="translate(299.83,258) scale(0.796,1)" font-size="15.6px" fill="#0000ff">%</text>
<text transform="translate(335.54,285) scale(0.788,1)" font-size="15.6px" fill="#0000ff">5</text>
<text transform="translate(342.22,285) scale(0.968,1)" font-size="15.6px" fill="#0000ff">0</text>
<text transform="translate(350.13,285) scale(0.788,1)" font-size="15.6px" fill="#0000ff">%</text>
<text transform="translate(337.64,315) scale(0.908,1)" font-size="15.6px" fill="#0000ff">6</text>
<text transform="translate(344.66,315) scale(0.907,1)" font-size="15.6px" fill="#0000ff">0</text>
<text transform="translate(351.75,315) scale(0.754,1)" font-size="15.6px" fill="#0000ff">%</text>

<text x="234.4" y="133" font-size="17px" fill="#ff0000">eejj</text>
<text transform="translate(176.11,368) scale(1.025,1)" font-size="17.2px" fill="#000" font-style="italic">M</text>
<text transform="translate(190.30,371) scale(1.003,1)" font-size="13px" fill="#000" font-style="italic">N</text>
<text transform="translate(204.77,368) scale(0.985,1)" font-size="17.5px" fill="#000">[TeV]</text>

<g transform="translate(14.1,211.0) rotate(-90)"><text transform="translate(0.25,0) scale(0.996,1)" font-size="16px" fill="#000">sin</text>
<text transform="translate(19.32,0) scale(1.114,1)" font-size="18px" fill="#000" font-style="italic">θ</text>
<text transform="translate(29.70,6) scale(0.920,1)" font-size="11.5px" fill="#000">LR</text>
<text transform="translate(28.89,-7.4) scale(0.971,1)" font-size="12px" fill="#000" font-style="italic">N</text>
<text transform="translate(48.93,1.2) scale(0.744,1)" font-size="17.5px" fill="#000">[</text>
<text transform="translate(56.98,0) scale(0.657,1)" font-size="16px" fill="#000">1</text>
<text transform="translate(63.37,0) scale(1.032,1)" font-size="16px" fill="#000">0</text>
<text transform="translate(72.98,-6.7) scale(0.762,1)" font-size="11px" fill="#000">−</text>
<text transform="translate(78.15,-6.7) scale(1.232,1)" font-size="11px" fill="#000">3</text>
<text transform="translate(87.84,1.2) scale(0.565,1)" font-size="17.5px" fill="#000">]</text>
</g>
</svg>
</body></html>
